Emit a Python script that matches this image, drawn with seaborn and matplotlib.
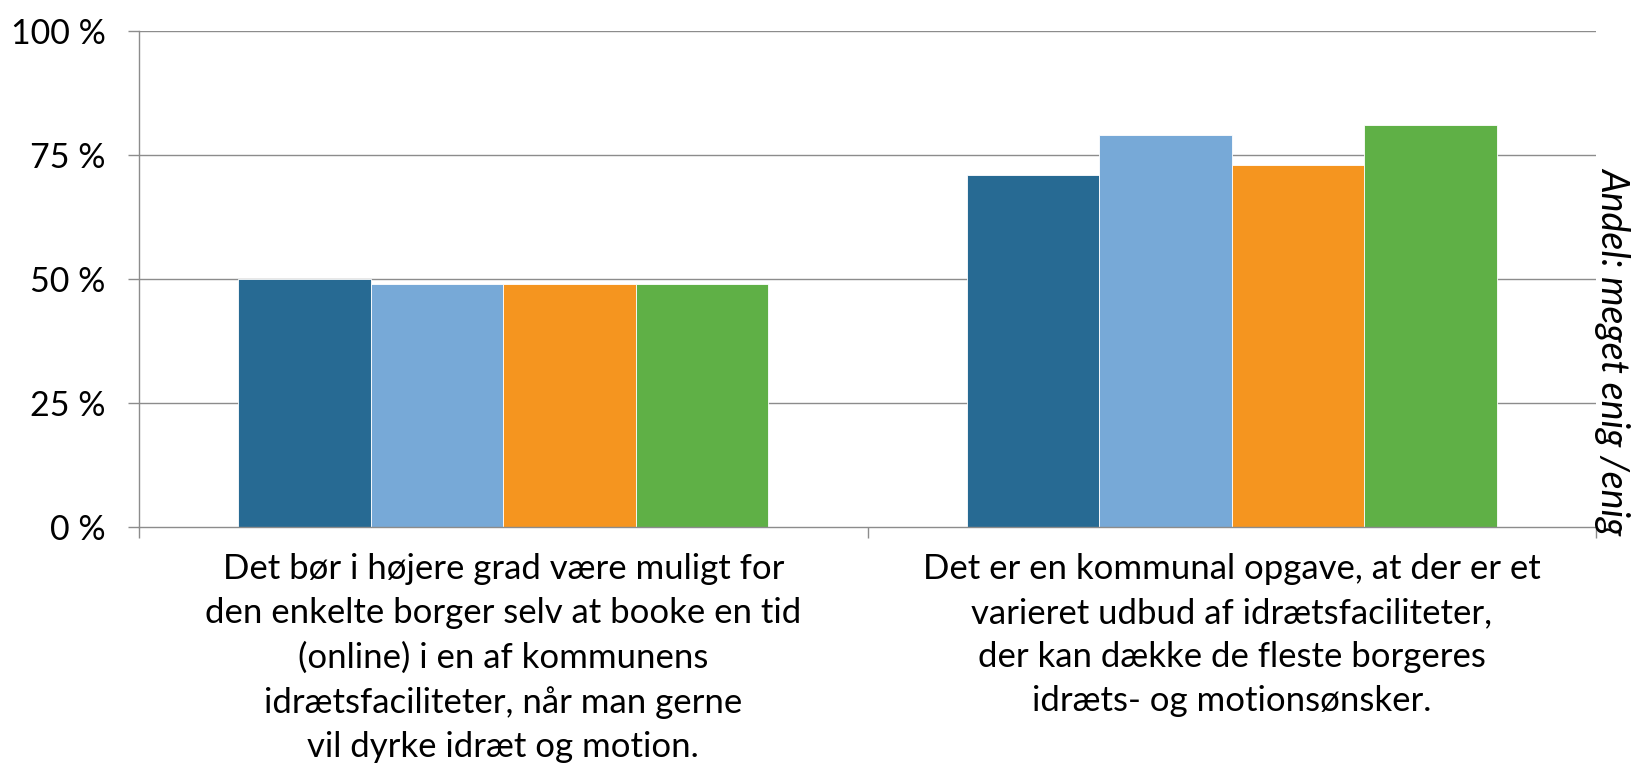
import matplotlib
matplotlib.use("Agg")
import matplotlib.pyplot as plt
import seaborn as sns
import pandas as pd
import numpy as np

categories = [
    "Det bør i højere grad være muligt for\nden enkelte borger selv at booke en tid\n(online) i en af kommunens\nidrætsfaciliteter, når man gerne\nvil dyrke idræt og motion.",
    "Det er en kommunal opgave, at der er et\nvarieret udbud af idrætsfaciliteter,\nder kan dække de fleste borgeres\nidræts- og motionsønsker.",
]
series = ["Serie 1", "Serie 2", "Serie 3", "Serie 4"]
values_s1 = [50, 71]
values_s2 = [49, 79]
values_s3 = [49, 73]
values_s4 = [49, 81]
colors = ["#276A93", "#77A9D7", "#F5951F", "#5FB046"]
ytick_values = [0, 25, 50, 75, 100]
ytick_labels = ["0 %", "25 %", "50 %", "75 %", "100 %"]
right_label = "Andel: meget enig /enig"

rows = []
for s, vals in zip(series, [values_s1, values_s2, values_s3, values_s4]):
    for c, v in zip(categories, vals):
        rows.append({"kategori": c, "serie": s, "andel": v})
df = pd.DataFrame(rows)

sns.set_theme(style="white")
plt.rcParams["font.family"] = ["Lato", "DejaVu Sans"]

fig = plt.figure(figsize=(16.32, 7.73), dpi=100)
ax = fig.add_axes([139 / 1632, 1 - 527 / 773, (1596 - 139) / 1632, (527 - 31) / 773])

grid_c = "#8C8C8C"
for y in ytick_values[1:]:
    ax.axhline(y, color=grid_c, lw=1.0, zorder=0)

sns.barplot(data=df, x="kategori", y="andel", hue="serie", order=categories,
            hue_order=series, palette=colors, width=0.727, gap=0,
            edgecolor="white", linewidth=0.6, saturation=1, ax=ax, legend=False, zorder=2)

ax.set_xlim(-0.5, 1.5)
ax.set_ylim(0, 100)
ax.set_yticks(ytick_values)
ax.set_yticklabels(ytick_labels, fontsize=24.5, color="black")
ax.tick_params(axis="y", direction="out", length=8, width=1.0, color=grid_c, pad=16, left=True)
ax.set_xticks([0, 1])
ax.set_xticklabels(categories, fontsize=25, color="black", linespacing=1.46)
ax.tick_params(axis="x", which="major", length=0, pad=19)
ax.set_xticks([-0.5, 0.5, 1.5], minor=True)
ax.tick_params(axis="x", which="minor", direction="out", length=8, width=1.0, color=grid_c, bottom=True)
ax.set_xlabel("")
ax.set_ylabel("")

for side in ["top", "right"]:
    ax.spines[side].set_visible(False)
for side in ["left", "bottom"]:
    ax.spines[side].set_color(grid_c)
    ax.spines[side].set_linewidth(1.0)
    ax.spines[side].set_zorder(3)

fig.text(1613 / 1632, 1 - 351 / 773, right_label, rotation=270, ha="center", va="center",
         fontsize=27, style="italic", color="black")

fig.savefig("out.png", dpi=100, facecolor="white")
